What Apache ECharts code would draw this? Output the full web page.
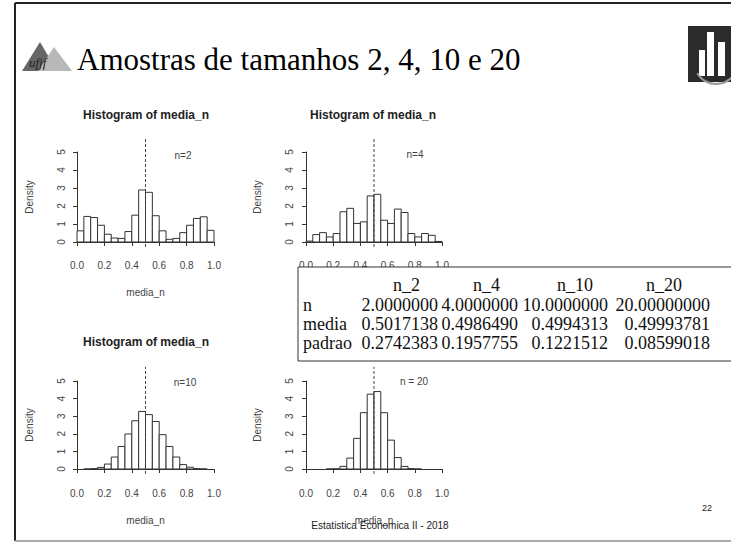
<!DOCTYPE html>
<html lang="pt">
<head>
<meta charset="UTF-8">
<title>Amostras de tamanhos 2, 4, 10 e 20</title>
<script src="https://cdn.jsdelivr.net/npm/echarts@6/dist/echarts.min.js"></script>
<style>
  html, body { margin: 0; padding: 0; background: #fff; }
</style>
</head>
<body>
<div id="main" style="width:731px;height:544px;"></div>
<script type="text/javascript">
// histogram densities, bin width 0.05
const binWidth = 0.05;
const start_n2 = 0.0;
const dens_n2 = [0.62, 1.42, 1.36, 0.93, 0.43, 0.22, 0.2, 0.58, 1.49, 2.89, 2.76, 1.46, 0.62, 0.15, 0.2, 0.52, 0.93, 1.31, 1.4, 0.65];
const start_n4 = 0.0;
const dens_n4 = [0.05, 0.41, 0.52, 0.28, 0.47, 1.68, 1.87, 1.03, 1.12, 2.56, 2.65, 1.21, 1.03, 1.83, 1.64, 0.47, 0.28, 0.47, 0.37, 0.03];
const start_n10 = 0.05;
const dens_n10 = [0, 0.02, 0.09, 0.28, 0.68, 1.28, 1.99, 2.74, 3.27, 3.09, 2.7, 1.95, 1.28, 0.68, 0.25, 0.1, 0.02, 0];
const start_n20 = 0.15;
const dens_n20 = [0, 0.01, 0.15, 0.62, 1.74, 3.2, 4.25, 4.4, 3.2, 1.64, 0.65, 0.15, 0.02, 0];
const meanLine = 0.5;
const panelLabels = ['n=2', 'n=4', 'n=10', 'n = 20'];

// summary table
const tableCols = ['n_2', 'n_4', 'n_10', 'n_20'];
const tableRows = ['n', 'media', 'padrao'];
const row_n = ['2.0000000', '4.0000000', '10.0000000', '20.00000000'];
const row_media = ['0.5017138', '0.4986490', '0.4994313', '0.49993781'];
const row_padrao = ['0.2742383', '0.1957755', '0.1221512', '0.08599018'];

const myChart = echarts.init(document.getElementById('main'), null, { renderer: 'svg' });

const axisGrey = '#333';
const textGrey = '#444';
const sans = 'Liberation Sans, Arial, sans-serif';
const serif = 'Liberation Serif, Times New Roman, serif';

// grid boxes: value 0..1 on x, 0..5 on y
// (the table hides panel 2's x name and panel 4's title, so they are left out)
const grids = [
  { left: 77, top: 152, width: 137, height: 90, xOff: 8, yOff: 5, nameGapX: 37, labelMargin: 10, xName: 'media_n' },
  { left: 306, top: 152, width: 136, height: 90, xOff: 8, yOff: 6, nameGapX: 37, labelMargin: 10, xName: '' },
  { left: 77, top: 381, width: 137, height: 88, xOff: 4, yOff: 5, nameGapX: 42, labelMargin: 15, xName: 'media_n' },
  { left: 306, top: 381, width: 136, height: 88, xOff: 4, yOff: 6, nameGapX: 42, labelMargin: 15, xName: 'media_n' }
];

function toBins(startX, dens) {
  return dens.map((d, i) => [startX + i * binWidth, d]);
}
const hists = [toBins(start_n2, dens_n2), toBins(start_n4, dens_n4), toBins(start_n10, dens_n10), toBins(start_n20, dens_n20)];

function histItem(params, api) {
  const x0 = api.value(0);
  const h = api.value(1);
  const p0 = api.coord([x0, h]);
  const p1 = api.coord([x0 + binWidth, 0]);
  return {
    type: 'rect',
    shape: { x: p0[0], y: p0[1], width: p1[0] - p0[0], height: p1[1] - p0[1] },
    style: { fill: '#fff', stroke: axisGrey, lineWidth: 1 }
  };
}

const series = [];
hists.forEach((data, i) => {
  series.push({
    type: 'custom',
    xAxisIndex: i,
    yAxisIndex: i,
    renderItem: histItem,
    data: data,
    silent: true
  });
  series.push({
    type: 'line',
    xAxisIndex: i,
    yAxisIndex: i,
    data: [[meanLine, -0.28], [meanLine, 5.8]],
    clip: false,
    symbol: 'none',
    silent: true,
    lineStyle: { color: textGrey, width: 1, type: [3, 2] }
  });
});

const graphic = [];
// slide frame
graphic.push({ type: 'line', shape: { x1: 15, y1: 3, x2: 731, y2: 3 }, style: { stroke: '#222', lineWidth: 2 } });
graphic.push({ type: 'line', shape: { x1: 15, y1: 3, x2: 15, y2: 541 }, style: { stroke: '#222', lineWidth: 2 } });
graphic.push({ type: 'line', shape: { x1: 15, y1: 541, x2: 731, y2: 541 }, style: { stroke: '#aaa', lineWidth: 2 } });

// ufjf logo
graphic.push({ type: 'polygon', shape: { points: [[22, 71], [40, 42], [57, 71]] }, style: { fill: '#666' } });
graphic.push({ type: 'polygon', shape: { points: [[38, 71], [54, 47], [72, 71]] }, style: { fill: '#b8b8b8' } });
graphic.push({ type: 'text', x: 29, y: 62, style: { text: 'ufjf', font: 'italic 13px ' + serif, fill: '#222', verticalAlign: 'middle' } });

// right logo
graphic.push({ type: 'rect', shape: { x: 688, y: 26, width: 45, height: 56 }, style: { fill: '#2b2b2b' } });
graphic.push({ type: 'rect', shape: { x: 699, y: 50, width: 6, height: 26 }, style: { fill: '#fff' } });
graphic.push({ type: 'rect', shape: { x: 707, y: 32, width: 7, height: 44 }, style: { fill: '#fff' } });
graphic.push({ type: 'rect', shape: { x: 718, y: 42, width: 7, height: 34 }, style: { fill: '#fff' } });
graphic.push({ type: 'arc', shape: { cx: 716, cy: 62, r: 22, startAngle: 0.3, endAngle: 2.6 }, style: { stroke: '#999', lineWidth: 2, fill: null } });

// slide title
graphic.push({ type: 'text', x: 77, y: 59, style: { text: 'Amostras de tamanhos 2, 4, 10 e 20', font: '31px ' + serif, fill: '#000', verticalAlign: 'middle' } });

// panel titles and n labels
const titlePos = [[146, 115], [373, 115], [146, 342]];
const labelPos = [[183, 155], [415, 154], [185, 382], [414, 381]];
titlePos.forEach(p => {
  graphic.push({ type: 'text', x: p[0], y: p[1], style: { text: 'Histogram of media_n', font: 'bold 12px ' + sans, fill: '#222', align: 'center', verticalAlign: 'middle' } });
});
labelPos.forEach((p, i) => {
  graphic.push({ type: 'text', x: p[0], y: p[1], style: { text: panelLabels[i], font: '10px ' + sans, fill: textGrey, align: 'center', verticalAlign: 'middle' } });
});

// summary table on top
graphic.push({ type: 'rect', z: 100, shape: { x: 298, y: 267, width: 440, height: 94 }, style: { fill: '#fff', stroke: axisGrey, lineWidth: 1 } });
const headRight = [420, 500, 593, 682];
const colRight = [438, 518, 608, 710];
const rowY = [285, 305, 324, 343];
const rowVals = [row_n, row_media, row_padrao];
const tFont = '18px ' + serif;
tableCols.forEach((c, j) => {
  graphic.push({ type: 'text', z: 101, x: headRight[j], y: rowY[0], style: { text: c, font: tFont, fill: '#111', align: 'right', verticalAlign: 'middle' } });
});
tableRows.forEach((r, i) => {
  graphic.push({ type: 'text', z: 101, x: 303, y: rowY[i + 1], style: { text: r, font: tFont, fill: '#111', verticalAlign: 'middle' } });
  rowVals[i].forEach((v, j) => {
    graphic.push({ type: 'text', z: 101, x: colRight[j], y: rowY[i + 1], style: { text: v, font: tFont, fill: '#111', align: 'right', verticalAlign: 'middle' } });
  });
});

// footer
graphic.push({ type: 'text', z: 101, x: 380, y: 525, style: { text: 'Estatistica Economica II - 2018', font: '10px ' + sans, fill: '#222', align: 'center', verticalAlign: 'middle' } });
graphic.push({ type: 'text', x: 707, y: 508, style: { text: '22', font: '9px ' + sans, fill: '#222', align: 'center', verticalAlign: 'middle' } });

const options = {
  animation: false,
  backgroundColor: '#fff',
  grid: grids.map(g => ({ left: g.left, top: g.top, width: g.width, height: g.height, outerBoundsMode: 'none' })),
  xAxis: grids.map((g, i) => ({
    type: 'value',
    gridIndex: i,
    min: 0,
    max: 1,
    interval: 0.2,
    offset: g.xOff,
    name: g.xName,
    nameLocation: 'middle',
    nameGap: g.nameGapX,
    nameTextStyle: { fontSize: 10, color: textGrey, fontFamily: sans },
    axisLine: { show: true, lineStyle: { color: axisGrey, width: 1 } },
    axisTick: { show: true, length: 4, lineStyle: { color: axisGrey } },
    axisLabel: { fontSize: 10, color: textGrey, fontFamily: sans, margin: g.labelMargin, showMinLabel: true, showMaxLabel: true, formatter: v => v.toFixed(1) },
    splitLine: { show: false }
  })),
  yAxis: grids.map((g, i) => ({
    type: 'value',
    gridIndex: i,
    min: 0,
    max: 5,
    interval: 1,
    offset: g.yOff,
    name: 'Density',
    nameLocation: 'middle',
    nameGap: 38,
    nameTextStyle: { fontSize: 10, color: textGrey, fontFamily: sans },
    axisLine: { show: true, lineStyle: { color: axisGrey, width: 1 } },
    axisTick: { show: true, length: 4, lineStyle: { color: axisGrey } },
    axisLabel: { fontSize: 10, color: textGrey, fontFamily: sans, margin: 6, rotate: 90, showMinLabel: true, showMaxLabel: true },
    splitLine: { show: false }
  })),
  series: series,
  graphic: graphic
};

myChart.setOption(options);
</script>
</body>
</html>
